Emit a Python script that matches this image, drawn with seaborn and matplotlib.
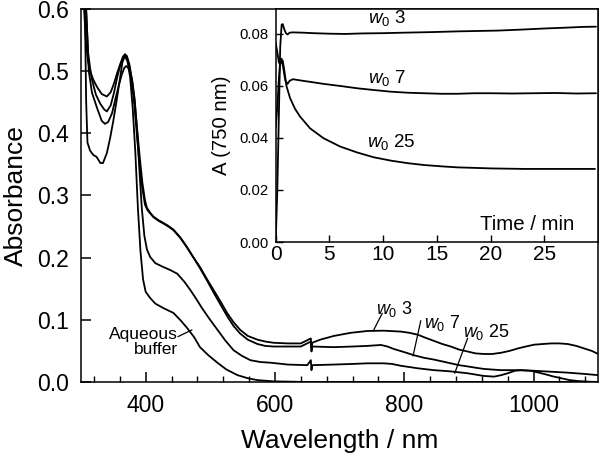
import numpy as np
import pandas as pd
import matplotlib
matplotlib.use("Agg")
import matplotlib.pyplot as plt
from matplotlib.ticker import MultipleLocator, FormatStrFormatter
import seaborn as sns

# ===============================
# DATA
# ===============================
# main panel: absorbance spectra
wl_w3 = [300, 304.7, 308, 311, 314, 319, 325, 332, 340, 346, 351, 356, 361, 365, 368, 371, 375,
         379, 383, 387, 391, 395, 399, 402, 407, 412, 420, 427, 435, 443, 454, 464, 474, 484,
         495, 505, 516, 526, 536, 546, 558, 573, 585, 598, 620, 640, 655.5, 656.5, 657.5, 670,
         691, 717, 743, 768, 795, 808, 821, 833, 846, 859, 872, 885, 898, 910, 923, 936, 950,
         963, 976, 988, 1001, 1014, 1027, 1040, 1053, 1066, 1078, 1090, 1100]
abs_w3 = [0.85, 0.60, 0.54, 0.515, 0.500, 0.486, 0.474, 0.463, 0.459, 0.466, 0.48, 0.497, 0.512,
          0.523, 0.527, 0.524, 0.51, 0.485, 0.45, 0.405, 0.36, 0.32, 0.292, 0.28, 0.272, 0.266,
          0.26, 0.256, 0.251, 0.245, 0.232, 0.217, 0.2, 0.185, 0.165, 0.148, 0.129, 0.111, 0.096,
          0.084, 0.074, 0.068, 0.065, 0.063, 0.062, 0.062, 0.070, 0.055, 0.063, 0.068, 0.074,
          0.079, 0.082, 0.0825, 0.081, 0.079, 0.076, 0.071, 0.066, 0.061, 0.057, 0.052, 0.049,
          0.046, 0.045, 0.045, 0.047, 0.050, 0.054, 0.057, 0.060, 0.061, 0.062, 0.062, 0.061,
          0.058, 0.054, 0.050, 0.045]

wl_w7 = [300, 307.8, 311, 314, 317, 323, 330, 336, 340, 346, 351, 356, 361, 365, 368, 371, 375,
         379, 383, 387, 391, 395, 399, 403, 408, 412, 420, 427, 435, 443, 454, 464, 474, 484,
         495, 505, 516, 526, 536, 546, 558, 573, 585, 598, 620, 640, 655.5, 656.5, 657.5, 691,
         720, 743, 764, 774, 784, 800, 815, 830, 846, 859, 872, 885, 898, 910, 923, 936, 950,
         976, 1001, 1027, 1053, 1078, 1100]
abs_w7 = [0.85, 0.60, 0.53, 0.505, 0.486, 0.462, 0.447, 0.438, 0.435, 0.445, 0.465, 0.49, 0.51,
          0.522, 0.526, 0.522, 0.507, 0.48, 0.44, 0.39, 0.345, 0.31, 0.285, 0.276, 0.27, 0.265,
          0.259, 0.255, 0.25, 0.244, 0.231, 0.216, 0.2, 0.183, 0.163, 0.144, 0.124, 0.106, 0.09,
          0.078, 0.068, 0.061, 0.058, 0.057, 0.057, 0.057, 0.065, 0.049, 0.057, 0.056, 0.057,
          0.058, 0.0595, 0.057, 0.053, 0.048, 0.043, 0.039, 0.036, 0.033, 0.030, 0.027, 0.025,
          0.023, 0.021, 0.020, 0.019, 0.019, 0.018, 0.0165, 0.015, 0.013, 0.011]

wl_w25 = [300, 308, 312, 317, 325, 332, 337, 342, 348, 353, 358, 363, 367, 370, 373, 376, 379,
          383, 387, 391, 394, 398, 402, 407, 415, 427, 438, 449, 460, 469, 478, 487, 499, 511,
          523, 536, 549, 562, 578, 593, 620, 650, 655.5, 656.5, 657.5, 691, 720, 743, 768, 781,
          795, 821, 846, 872, 898, 923, 939, 950, 960, 971, 981, 996, 1016, 1030, 1043, 1056,
          1069, 1085, 1100]
abs_w25 = [0.80, 0.60, 0.50, 0.465, 0.44, 0.42, 0.415, 0.418, 0.432, 0.454, 0.475, 0.494, 0.505,
           0.508, 0.505, 0.497, 0.486, 0.455, 0.40, 0.33, 0.28, 0.235, 0.213, 0.201, 0.191,
           0.185, 0.18, 0.174, 0.161, 0.148, 0.134, 0.119, 0.101, 0.084, 0.067, 0.051, 0.042,
           0.035, 0.032, 0.031, 0.028, 0.027, 0.035, 0.019, 0.027, 0.028, 0.029, 0.030, 0.030,
           0.029, 0.026, 0.022, 0.019, 0.017, 0.014, 0.0097, 0.0086, 0.011, 0.014, 0.018, 0.019,
           0.018, 0.013, 0.009, 0.006, 0.003, 0.0015, 0.0005, 0.0]

wl_aq = [300, 306, 308, 310, 314, 319, 324, 330, 334, 340, 345, 350, 355, 360, 364, 368, 372,
         376, 380, 384, 388, 392, 396, 400, 407, 415, 427, 443, 455, 464, 475, 484, 497, 511,
         525, 542, 558, 573, 598, 650, 700, 800, 900, 1000, 1100]
abs_aq = [0.80, 0.60, 0.45, 0.385, 0.372, 0.365, 0.362, 0.352, 0.352, 0.368, 0.392, 0.42, 0.452,
          0.486, 0.514, 0.524, 0.515, 0.49, 0.44, 0.37, 0.28, 0.21, 0.165, 0.145, 0.135, 0.126,
          0.119, 0.111, 0.098, 0.087, 0.072, 0.056, 0.043, 0.031, 0.02, 0.011, 0.006, 0.003,
          0.001, 0.0, 0.0, 0.0, 0.0, 0.0, 0.0]

# inset: A(750 nm) against time
t_w3 = [0, 0.15, 0.3, 0.42, 0.55, 0.65, 0.78, 0.95, 1.1, 1.3, 1.6, 2.5, 3.5, 5, 6.5, 8, 10, 12,
        14.4, 17, 20.7, 23, 25, 26.9, 28.5, 29.8]
a_w3 = [0.0, 0.02, 0.05, 0.075, 0.0835, 0.0838, 0.082, 0.0803, 0.0798, 0.0805, 0.0806, 0.0805,
        0.0803, 0.0801, 0.0800, 0.0802, 0.0803, 0.0805, 0.0807, 0.081, 0.0813, 0.0817, 0.0821,
        0.0824, 0.0827, 0.0828]

t_w7 = [0, 0.15, 0.3, 0.45, 0.55, 0.7, 0.9, 1.1, 1.3, 1.6, 2.5, 3.5, 4.45, 6, 7.6, 9, 10.7, 12.3,
        13.8, 15.4, 16.9, 18.5, 20, 22, 24, 26, 28, 29.8]
a_w7 = [0.044, 0.052, 0.063, 0.0703, 0.0705, 0.067, 0.062, 0.0608, 0.062, 0.0626, 0.062, 0.0614,
        0.0608, 0.060, 0.0591, 0.0585, 0.0578, 0.0574, 0.0572, 0.057, 0.057, 0.0572, 0.0572,
        0.0571, 0.0572, 0.0573, 0.0571, 0.0572]

t_w25 = [0, 0.15, 0.3, 0.45, 0.65, 0.8, 1.0, 1.34, 1.8, 2.27, 3.2, 4.45, 6.0, 7.6, 9.1, 10.7,
         12.3, 13.8, 15.4, 16.9, 18.5, 20, 23.2, 26.3, 29.7]
a_w25 = [0.0764, 0.073, 0.069, 0.0685, 0.0698, 0.066, 0.060, 0.0553, 0.0512, 0.0482, 0.0437,
         0.0399, 0.0367, 0.0344, 0.0326, 0.0313, 0.0303, 0.0296, 0.0291, 0.0287, 0.0285, 0.0283,
         0.0281, 0.0281, 0.0281]

# ===============================
# STYLE
# ===============================
sns.set_theme(style="ticks")
plt.rcParams["font.family"] = ["Liberation Sans", "DejaVu Sans"]
plt.rcParams["mathtext.fontset"] = "custom"
plt.rcParams["mathtext.rm"] = "Liberation Sans"
plt.rcParams["mathtext.it"] = "Liberation Sans:italic"
plt.rcParams["axes.linewidth"] = 1.1
plt.rcParams["axes.edgecolor"] = "black"

LW = 1.3
INK = "black"

fig = plt.figure(figsize=(6, 4.63), dpi=100)
ax = fig.add_axes([0.135, 0.175, 0.862, 0.806])

# ===============================
# MAIN SPECTRA
# ===============================
spectra = [(wl_w3, abs_w3), (wl_w7, abs_w7), (wl_w25, abs_w25), (wl_aq, abs_aq)]
for wl, ab in spectra:
    d = pd.DataFrame({"wl": wl, "abs": ab})
    sns.lineplot(data=d, x="wl", y="abs", ax=ax, color=INK, lw=LW, estimator=None, sort=False)

ax.set_xlim(300, 1100)
ax.set_ylim(0, 0.6)
ax.xaxis.set_major_locator(MultipleLocator(200))
ax.xaxis.set_minor_locator(MultipleLocator(40))
ax.yaxis.set_major_locator(MultipleLocator(0.1))
ax.yaxis.set_major_formatter(FormatStrFormatter("%.1f"))
ax.tick_params(which="both", direction="in", colors=INK, labelsize=16.5, pad=9)
ax.tick_params(which="major", length=7, width=1.1)
ax.tick_params(which="minor", length=4, width=1.0)
ax.set_xlabel("Wavelength / nm", fontsize=19, color=INK, labelpad=8)
ax.set_ylabel("Absorbance", fontsize=19, color=INK, labelpad=6)
for s in ax.spines.values():
    s.set_visible(True)
    s.set_color(INK)

# curve labels with leader lines
labels_main = [
    (r"$w_0$ 3", (756, 0.118), (766, 0.1105), (752, 0.082)),
    (r"$w_0$ 7", (830, 0.095), (825.6, 0.0986), (813.6, 0.0418)),
    (r"$w_0$ 25", (891, 0.080), (898, 0.0703), (878, 0.014)),
]
for txt, pos, p0, p1 in labels_main:
    ax.text(pos[0], pos[1], txt, fontsize=13, ha="left", va="center", color=INK)
    ax.plot([p0[0], p1[0]], [p0[1], p1[1]], color=INK, lw=0.9)

ax.text(450, 0.064, "Aqueous\nbuffer", fontsize=12.5, ha="right", va="center",
        multialignment="right", linespacing=1.05, color=INK)
ax.plot([450, 471.6], [0.0729, 0.0837], color=INK, lw=0.9)

# ===============================
# INSET: KINETICS AT 750 nm
# ===============================
ins = fig.add_axes([0.4595, 0.4773, 0.5375, 0.5033])
ins.set_facecolor("white")
kinetics = [(t_w3, a_w3), (t_w7, a_w7), (t_w25, a_w25)]
for tt, aa in kinetics:
    d = pd.DataFrame({"t": tt, "a": aa})
    sns.lineplot(data=d, x="t", y="a", ax=ins, color=INK, lw=LW, estimator=None, sort=False)

ins.set_xlim(0, 30)
ins.set_ylim(0, 0.0896)
ins.set_xticks([0, 5, 10, 15, 20, 25])
ins.set_yticks([0.0, 0.02, 0.04, 0.06, 0.08])
ins.yaxis.set_major_formatter(FormatStrFormatter("%.2f"))
ins.tick_params(direction="in", length=5, width=1.0, colors=INK)
ins.tick_params(axis="x", labelsize=15, pad=2)
ins.tick_params(axis="y", labelsize=10.7, pad=5)
ins.set_xlabel("Time / min", fontsize=14.7, color=INK)
ins.xaxis.set_label_coords(0.78, 0.115)
ins.set_ylabel("A (750 nm)", fontsize=14.7, color=INK, labelpad=6)
for s in ins.spines.values():
    s.set_color(INK)

labels_inset = [(r"$w_0$ 3", 8.6, 0.0862), (r"$w_0$ 7", 8.6, 0.0629), (r"$w_0$ 25", 8.5, 0.0385)]
for txt, tx, ty in labels_inset:
    ins.text(tx, ty, txt, fontsize=13.5, ha="left", va="center", color=INK)

fig.savefig("out.png", dpi=100)
print("saved out.png")
